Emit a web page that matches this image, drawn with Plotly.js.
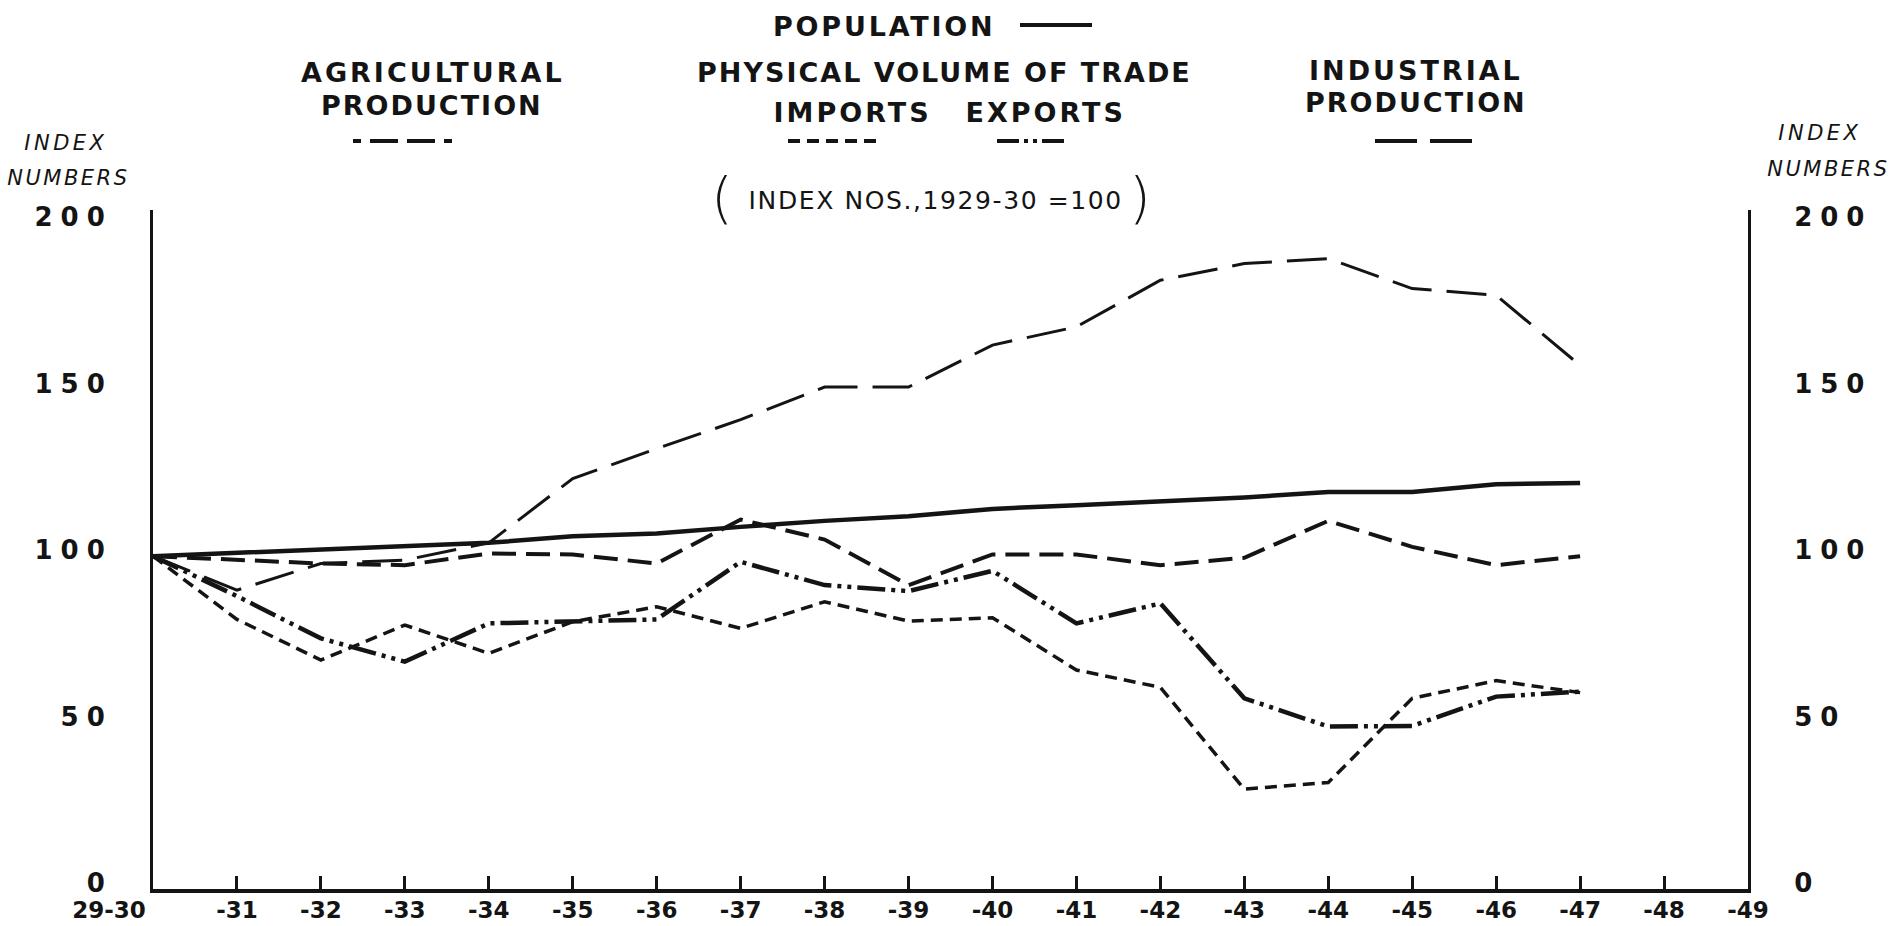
<!DOCTYPE html>
<html><head><meta charset="utf-8">
<script src="https://cdn.plot.ly/plotly-3.0.1.min.js"></script>
<style>html,body{margin:0;padding:0;background:#fff;overflow:hidden}#chart{width:1892px;height:926px}</style>
</head><body><div id="chart"></div>
<script>
// ---- data (index numbers, 1929-30 = 100) ----
const years = ['29-30','-31','-32','-33','-34','-35','-36','-37','-38','-39','-40','-41','-42','-43','-44','-45','-46','-47','-48','-49'];
const yTickVals = [0, 50, 100, 150, 200];
const yTickText = ['0', '50', '100', '150', '200'];
const population   = [100, 101, 102, 103, 104, 106, 106.8, 108.8, 110.6, 112, 114.2, 115.3, 116.3, 117.6, 119.3, 119.3, 121.6, 122];
const agricultural = [100, 99, 97.8, 97.3, 100.8, 100.5, 97.8, 111, 105, 91.3, 100.5, 100.5, 97.3, 99.5, 110.6, 102.8, 97.3, 100];
const industrial   = [100, 89.8, 97.8, 98.8, 104, 123.3, 132.3, 141, 150.8, 150.8, 163.4, 168.9, 182.9, 187.9, 189.4, 180.4, 178.4, 157.3];
const imports      = [100, 81, 68.8, 79.3, 70.8, 80.3, 84.8, 78.3, 86.3, 80.5, 81.5, 65.8, 60.6, 30, 32, 57.3, 62.6, 59];
const exports      = [100, 88, 75.3, 68.3, 79.8, 80.3, 81, 98.3, 91.3, 89.5, 95.6, 79.8, 85.8, 57.3, 48.8, 49, 57.8, 59.3];

// ---- geometry helpers ----
const W = 1892, H = 926, L = 153, R = 144, T = 210, B = 37;
const PW = W - L - R, PH = H - T - B;
const px = X => (X - L) / PW;
const py = Y => (H - B - Y) / PH;
const FONT = 'DejaVu Sans';
const ink = '#141414';

const DASH_AGR = '24px,10px';
const DASH_IND = '40px,15px';
const DASH_IMP = '12px,7px';
const DASH_EXP = '28px,6px,4px,6px,4px,6px';

function series(name, vals, dash, width) {
  return {type: 'scatter', mode: 'lines', name: name, x: years.slice(0, vals.length), y: vals,
          line: {color: ink, width: width, dash: dash}, hoverinfo: 'skip', showlegend: false};
}
const traces = [
  series('Imports', imports, DASH_IMP, 3.5),
  series('Exports', exports, DASH_EXP, 4.5),
  series('Industrial production', industrial, DASH_IND, 3),
  series('Agricultural production', agricultural, DASH_AGR, 4),
  series('Population', population, 'solid', 4.5),
  // empty trace so the right-hand index scale is drawn
  {type: 'scatter', mode: 'lines', x: [], y: [], yaxis: 'y2', showlegend: false, hoverinfo: 'skip'}
];

// ---- header texts ----
const heads = [
  {t: 'POPULATION', x: 884, y: 26, s: 27, w: 'bold', ls: 2.8},
  {t: 'AGRICULTURAL', x: 433, y: 72, s: 27, w: 'bold', ls: 3},
  {t: 'PRODUCTION', x: 432, y: 105, s: 27, w: 'bold', ls: 2},
  {t: 'PHYSICAL VOLUME OF TRADE', x: 944, y: 72, s: 27, w: 'bold', ls: 2},
  {t: 'IMPORTS', x: 852, y: 112, s: 27, w: 'bold', ls: 3},
  {t: 'EXPORTS', x: 1045, y: 112, s: 27, w: 'bold', ls: 3},
  {t: 'INDUSTRIAL', x: 1416, y: 70, s: 27, w: 'bold', ls: 3},
  {t: 'PRODUCTION', x: 1416, y: 103, s: 27, w: 'bold', ls: 2},
  {t: 'INDEX NOS.,1929-30 =100', x: 935, y: 200, s: 25, w: 'normal', ls: 1.6},
  {t: '(', x: 722, y: 197, s: 56, w: 200, ls: 0},
  {t: ')', x: 1140, y: 197, s: 56, w: 200, ls: 0},
  {t: 'INDEX', x: 66, y: 143, s: 21, w: 'normal', ls: 3.5, it: true},
  {t: 'NUMBERS', x: 68, y: 178, s: 21, w: 'normal', ls: 2.5, it: true},
  {t: 'INDEX', x: 1820, y: 133, s: 21, w: 'normal', ls: 3.5, it: true},
  {t: 'NUMBERS', x: 1828, y: 169, s: 21, w: 'normal', ls: 2.5, it: true}
];
const annotations = heads.map(h => ({
  text: h.t, xref: 'paper', yref: 'paper', x: px(h.x), y: py(h.y), xanchor: 'center', yanchor: 'middle',
  showarrow: false, font: {family: FONT, size: h.s, color: ink, weight: h.w, style: h.it ? 'italic' : 'normal'}
}));

// ---- legend key samples ----
function key(x0, x1, y, dash) {
  return {type: 'line', xref: 'paper', yref: 'paper', x0: px(x0), x1: px(x1), y0: py(y), y1: py(y),
          line: {color: ink, width: 4, dash: dash}};
}
const shapes = [
  key(1020, 1092, 25, 'solid'),
  key(353, 452, 141, '8px,9px,28px,9px,28px,9px,8px,200px'),
  key(788, 877, 141, '12px,7px'),
  key(997, 1064, 141, '22px,5px,4px,5px,4px,5px,22px,200px'),
  key(1375, 1472, 141, '42px,13px,42px,200px')
];

const yBase = {
  range: [0, 204], tickmode: 'array', tickvals: yTickVals, ticktext: yTickText,
  showline: true, linewidth: 3, linecolor: ink, ticks: '', showgrid: false, zeroline: false,
  tickfont: {family: FONT, size: 26, color: ink, weight: 'bold'}, ticklabelshift: -6, fixedrange: true
};

const layout = {
  width: W, height: H, margin: {l: L, r: R, t: T, b: B, pad: 0},
  paper_bgcolor: '#ffffff', plot_bgcolor: '#ffffff', showlegend: false,
  xaxis: {
    type: 'category', categoryorder: 'array', categoryarray: years, tickmode: 'array', tickvals: years, ticktext: years,
    range: [0, 19], showline: true, linewidth: 4, linecolor: ink, ticks: 'inside', ticklen: 13, tickwidth: 3, tickcolor: ink,
    showgrid: false, zeroline: false, tickfont: {family: FONT, size: 23, color: ink, weight: 'bold'}, ticklabelstandoff: -3, fixedrange: true
  },
  yaxis: Object.assign({}, yBase, {side: 'left', ticklabelstandoff: 32}),
  yaxis2: Object.assign({}, yBase, {overlaying: 'y', side: 'right', anchor: 'x', ticklabelstandoff: 38}),
  annotations: annotations, shapes: shapes
};

Plotly.newPlot('chart', traces, layout, {staticPlot: true, responsive: false}).then(gd => {
  gd.querySelectorAll('g.annotation').forEach(g => {
    const i = +g.getAttribute('data-index');
    const t = g.querySelector('text');
    if (t && heads[i]) t.style.letterSpacing = heads[i].ls + 'px';
  });
  gd.querySelectorAll('g.ytick text, g.y2tick text').forEach(t => { t.style.letterSpacing = '8px'; });
  const first = gd.querySelector('g.xtick text');
  if (first) first.setAttribute('dx', '-44');
});
</script>
</body></html>
